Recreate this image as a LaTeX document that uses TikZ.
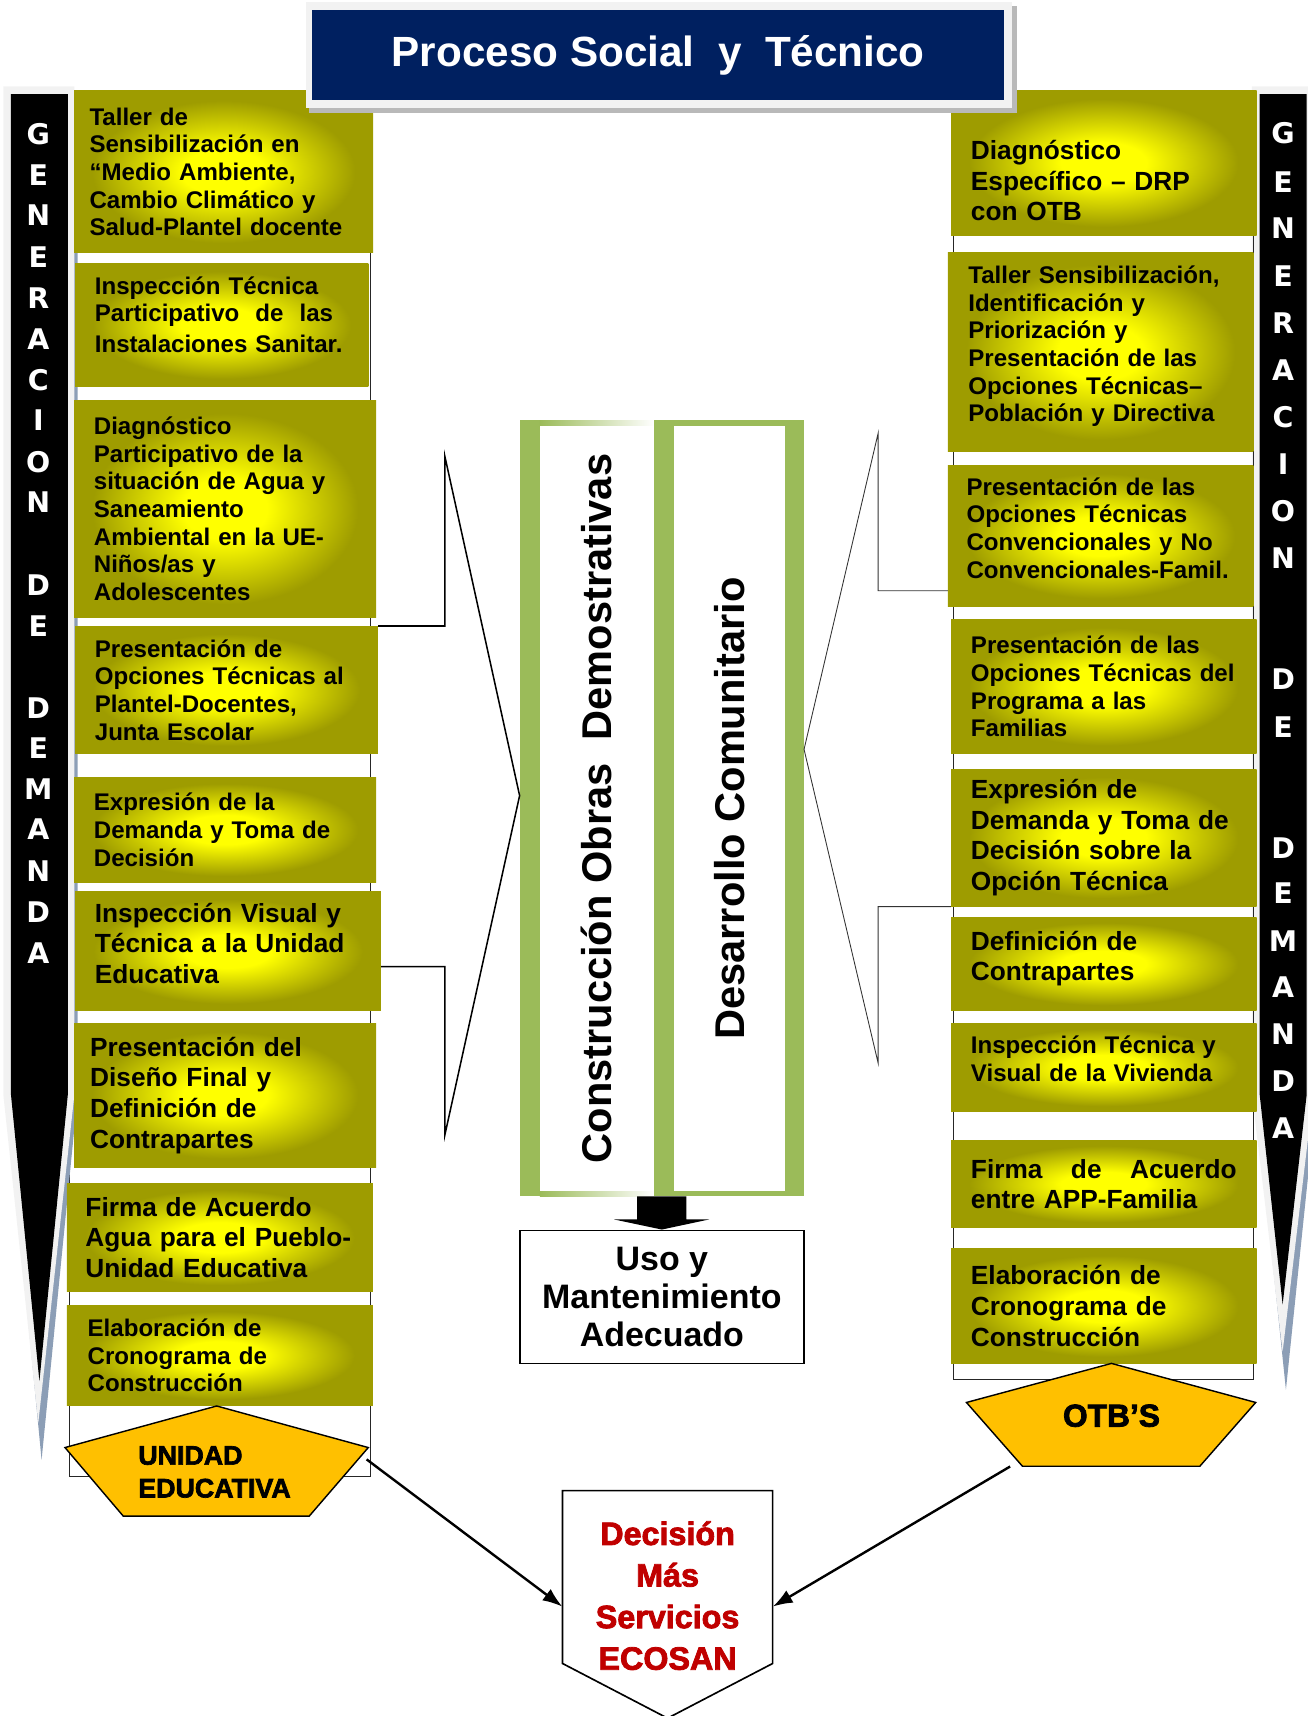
\documentclass[tikz,border=0pt]{standalone}
\usepackage{fontspec}
\setmainfont{Liberation Sans}[BoldFont={Liberation Sans Bold}]
\newfontfamily\bandfont{DejaVu Sans}[BoldFont={DejaVu Sans Bold}]
\newfontfamily\heavyfont{Liberation Sans Bold}[FakeBold=2.5]
\usetikzlibrary{arrows.meta,positioning,shapes}

\definecolor{oliveedge}{RGB}{158,156,0}
\definecolor{navytitle}{RGB}{0,32,96}
\definecolor{framegreen}{RGB}{155,187,89}
\definecolor{tagorange}{RGB}{255,192,0}
\definecolor{ecored}{RGB}{192,0,0}
\definecolor{bandgray}{RGB}{242,242,242}
\definecolor{bandshadow}{RGB}{140,158,182}

\pgfdeclareradialshading{boxglow}{\pgfpoint{0bp}{0bp}}{color(0bp)=(yellow); color(7bp)=(yellow); color(22bp)=(oliveedge); color(50bp)=(oliveedge)}

\newcommand{\lowend}[1]{\rule[-#1]{0pt}{#1}}

\tikzstyle{olivebox} = [shape=rectangle, shade, shading=boxglow, anchor=north west, align=left, inner xsep=18pt, inner ysep=0pt]
\tikzstyle{smalltext} = [font=\bfseries\fontsize{22}{25.3}\selectfont]
\tikzstyle{largetext} = [font=\bfseries\fontsize{24}{28}\selectfont]
\tikzstyle{bandletter} = [text=white, inner sep=0pt, font=\bandfont\bfseries\fontsize{26}{26}\selectfont]
\tikzstyle{framebox} = [draw=black!85, line width=1pt]
\tikzstyle{bracket} = [draw, line width=1.4pt]
\tikzstyle{thinbracket} = [draw=black!80, line width=0.8pt]
\tikzstyle{tagshape} = [draw, line width=1.3pt, fill=tagorange]
\tikzstyle{tagtext} = [inner sep=0pt, font=\heavyfont\fontsize{24.5}{30}\selectfont]
\tikzstyle{panel} = [fill=white, inner sep=0pt, font=\bfseries\fontsize{38}{38}\selectfont]
\tikzstyle{thickarrow} = [-{Latex[length=18pt, width=13pt]}, line width=2.2pt]

\begin{document}
\begin{tikzpicture}[x=1pt, y=-1pt]
	\useasboundingbox (0,0) rectangle (1195,1568);

	\draw[framebox] (63.3,200) rectangle (338.6,1349);

	\fill[bandshadow] (6,83) -- (71,83) -- (71,1000) -- (38,1334) -- (6,1000) -- cycle;
	\fill[bandgray] (3,79) -- (68,79) -- (68,1000) -- (35,1300) -- (3,1000) -- cycle;
	\fill[black] (10,86) -- (62,86) -- (62,1000) -- (36,1262) -- (10,1000) -- cycle;
	\fill[bandshadow] (1147,83) -- (1203,83) -- (1203,1000) -- (1175,1270) -- (1147,1000) -- cycle;
	\fill[bandgray] (1144,79) -- (1200,79) -- (1200,1000) -- (1172,1235) -- (1144,1000) -- cycle;
	\fill[black] (1151,86) -- (1194,86) -- (1194,1000) -- (1172,1192) -- (1151,1000) -- cycle;

	\foreach \ch/\yy in {G/123,E/160,N/197,E/235,R/272,A/310,C/347,I/384,O/422,N/459,D/535,E/572,D/647,E/684,M/721,A/758,N/796,D/833,A/871}
		\node (lband\yy) [bandletter] at (35,\yy) {\ch};
	\foreach \ch/\yy in {G/122,E/166,N/208,E/252,R/295,A/338,C/381,I/424,O/467,N/510,D/621,E/664,D/775,E/816,M/860,A/902,N/945,D/988,A/1031}
		\node (rband\yy) [bandletter] at (1172.4,\yy) {\ch};

	\draw[framebox] (871,150) rectangle (1145,1260.4);

	\node (lTaller) [olivebox, smalltext, inner xsep=14pt, minimum width=273.1pt, minimum height=147.8pt, text width=245.1pt] at (67.6,82.9) {
		Taller de\\
		Sensibilización en\\
		“Medio Ambiente,\\
		Cambio Climático y\\
		Salud-Plantel docente
	};
	\node (lInsp) [olivebox, smalltext, minimum width=268pt, minimum height=111.7pt, text width=232pt] at (68.5,241) {
		Inspección Técnica\\
		Participativo~ de~ las\\[3pt]
		Instalaciones Sanitar.\lowend{19pt}
	};
	\node (lDiag) [olivebox, smalltext, minimum width=275.9pt, minimum height=198.1pt, text width=239.9pt] at (67.6,365.6) {
		Diagnóstico\\
		Participativo de la\\
		situación de Agua y\\
		Saneamiento\\
		Ambiental en la UE-\\
		Niños/as y\\
		Adolescentes
	};
	\node (lOpc) [olivebox, smalltext, minimum width=276.5pt, minimum height=116.4pt, text width=240.5pt] at (68.5,572) {
		Presentación de\\
		Opciones Técnicas al\\
		Plantel-Docentes,\\
		Junta Escolar
	};
	\node (lExpr) [olivebox, smalltext, minimum width=275.9pt, minimum height=96pt, text width=239.9pt] at (67.6,710) {
		Expresión de la\\
		Demanda y Toma de\\
		Decisión
	};
	\node (lVis) [olivebox, largetext, minimum width=279.3pt, minimum height=108.7pt, text width=243.3pt] at (68.5,814.7) {
		Inspección Visual y\\
		Técnica a la Unidad\\
		Educativa\lowend{15pt}
	};
	\node (lDis) [olivebox, largetext, inner xsep=14.6pt, minimum width=275.9pt, minimum height=131.8pt, text width=246.7pt] at (67.6,934.6) {
		Presentación del\\
		Diseño Final y\\
		Definición de\\
		Contrapartes
	};
	\node (lFirma) [olivebox, largetext, inner xsep=17pt, minimum width=279.6pt, minimum height=99pt, text width=245.6pt] at (60.9,1081) {
		Firma de Acuerdo\\
		\mbox{Agua para el Pueblo-}\\
		Unidad Educativa
	};
	\node (lCron) [olivebox, smalltext, inner xsep=19pt, minimum width=279.6pt, minimum height=91.6pt, text width=241.6pt] at (60.9,1192.4) {
		Elaboración de\\
		Cronograma de\\
		Construcción
	};

	\node (rDiag) [olivebox, largetext, inner xsep=18.2pt, minimum width=279.2pt, minimum height=132.8pt, text width=242.8pt] at (868.8,82.2) {
		\rule{0pt}{50pt}Diagnóstico\\
		Específico – DRP\\
		con OTB
	};
	\node (rTaller) [olivebox, smalltext, inner xsep=18.6pt, minimum width=279pt, minimum height=181.7pt, text width=241.8pt] at (866,230.7) {
		Taller Sensibilización,\\
		Identificación y\\
		Priorización y\\
		Presentación de las\\
		Opciones Técnicas–\\
		Población y Directiva\lowend{15pt}
	};
	\node (rConv) [olivebox, smalltext, inner xsep=17pt, minimum width=279pt, minimum height=129.6pt, text width=245pt] at (866,424.8) {
		Presentación de las\\
		Opciones Técnicas\\
		Convencionales y No\\
		Convencionales-Famil.\lowend{15pt}
	};
	\node (rProg) [olivebox, smalltext, inner xsep=18.2pt, minimum width=279.2pt, minimum height=122.6pt, text width=242.8pt] at (868.8,565.8) {
		Presentación de las\\
		Opciones Técnicas del\\
		Programa a las\\
		Familias
	};
	\node (rExpr) [olivebox, largetext, inner xsep=18.2pt, minimum width=279.2pt, minimum height=125.5pt, text width=242.8pt] at (868.8,702.5) {
		Expresión de\\
		Demanda y Toma de\\
		Decisión sobre la\\
		Opción Técnica
	};
	\node (rContra) [olivebox, largetext, inner xsep=18.2pt, minimum width=279.2pt, minimum height=85.6pt, text width=242.8pt] at (868.8,837.8) {
		Definición de\\
		Contrapartes\lowend{15pt}
	};
	\node (rVivi) [olivebox, smalltext, inner xsep=18.2pt, minimum width=279.2pt, minimum height=80.6pt, text width=242.8pt] at (868.8,934.8) {
		Inspección Técnica y\\
		Visual de la Vivienda\lowend{16pt}
	};
	\node (rFirma) [olivebox, largetext, inner xsep=18.2pt, minimum width=279.2pt, minimum height=79.5pt, text width=242.8pt] at (868.8,1042) {
		Firma\hfill de\hfill Acuerdo\\
		entre APP-Familia
	};
	\node (rCron) [olivebox, largetext, inner xsep=18.2pt, minimum width=279.2pt, minimum height=105.1pt, text width=242.8pt] at (868.8,1140.7) {
		Elaboración de\\
		Cronograma de\\
		Construcción
	};

	\fill[gray!55] (282.4,5.5) rectangle (929,103);
	\fill[bandgray] (279.4,1.5) rectangle (925,99);
	\node (title) [fill=navytitle, text=white, minimum width=632pt, minimum height=82.4pt, font=\bfseries\fontsize{38.6}{38.6}\selectfont] at (601.5,50.2) {
		Proceso Social~ y~ Técnico
	};

	\node (frame) [fill=framegreen, minimum width=259.5pt, minimum height=709pt, inner sep=0pt] at (604.75,738.5) {};
	\shade[left color=framegreen, right color=white] (493.3,384) rectangle (597.5,389.6);
	\shade[left color=framegreen, right color=white] (493.3,1088) rectangle (597.5,1093);
	\node (obras) [panel, rotate=90, minimum width=698.4pt, minimum height=104.2pt] at (545.4,738.8) {
		Construcción Obras~ Demostrativas
	};
	\node (desarrollo) [panel, rotate=90, minimum width=698.4pt, minimum height=101.4pt] at (666.5,738.8) {
		Desarrollo Comunitario
	};

	\coordinate (lTop) at (406.5,417);
	\coordinate (lBot) at (406.5,1037);
	\coordinate (rTop) at (802.4,395.8);
	\coordinate (rBot) at (802.4,971.4);
	\draw[bracket] (lOpc.north east) -| (lTop) -- ([yshift=11.5pt]frame.west) -- (lBot) |- ([yshift=-14pt]lVis.east);
	\draw[thinbracket] ([yshift=-50pt]rConv.west) -| (rTop) -- ([yshift=53.8pt]frame.east) -- (rBot) |- (rExpr.south west);

	\node (uso) [draw, line width=1.5pt, minimum width=259.5pt, minimum height=121.5pt, align=center, font=\bfseries\fontsize{31}{35}\selectfont] at (604.75,1185) {
		Uso y\\
		Mantenimiento\\
		Adecuado
	};
	\fill (frame.south) ++(-22.5,0) -- ++(45,0) -- ++(0,21) -- ++(21,0) -- (uso.north) -- ++(-43.5,-9.2) -- ++(21,0) -- cycle;

	\draw[tagshape] (198,1284.7) -- (336.5,1322.7) -- (282.6,1385.3) -- (112.6,1385.3) -- (59.4,1322.7) -- cycle;
	\node (ueTag) [tagtext, align=left] at (196,1345) {
		UNIDAD\\
		EDUCATIVA
	};
	\draw[tagshape] (1015.6,1245.8) -- (1147.4,1281.5) -- (1096.3,1339.8) -- (934.3,1339.8) -- (883.1,1281.5) -- cycle;
	\node (otbTag) [tagtext, font=\heavyfont\fontsize{29}{30}\selectfont] at (1015.6,1293.6) {
		OTB’S
	};
	\coordinate (ueEdge) at (335,1333.5);
	\coordinate (otbEdge) at (923,1340);

	\draw[line width=1.5pt, fill=white] (514,1362) -- (706,1362) -- (706,1520) -- (610,1570) -- (514,1520) -- cycle;
	\node (decision) [text=ecored, align=center, minimum width=192pt, inner sep=0pt, font=\heavyfont\fontsize{29.5}{38}\selectfont] at (610,1458) {
		Decisión\\
		Más\\
		Servicios\\
		ECOSAN
	};
	\draw[thickarrow] (ueEdge) -- ([yshift=-10pt]decision.west);
	\draw[thickarrow] (otbEdge) -- ([yshift=-10pt]decision.east);
\end{tikzpicture}
\end{document}
